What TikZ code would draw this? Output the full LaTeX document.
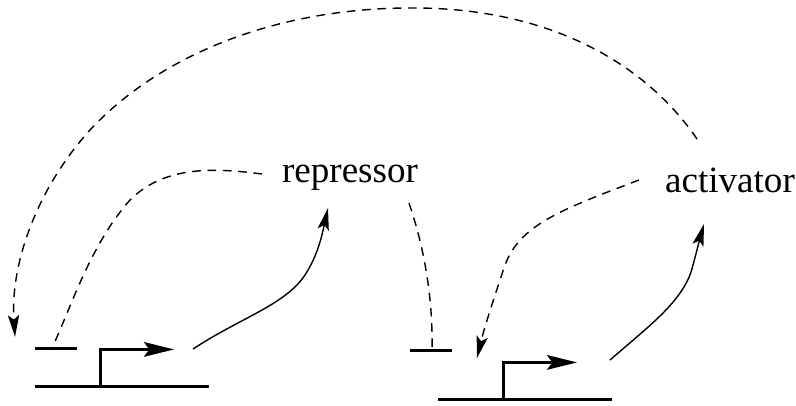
\documentclass[tikz,border=0pt]{standalone}
\usepackage{fontspec}
\setmainfont{Liberation Serif}
\usetikzlibrary{arrows.meta}
\tikzset{
  bigtip/.style={-{Stealth[length=22.5pt,width=11pt,inset=4pt]}},
  smalltip/.style={-{Stealth[length=16.5pt,width=8.5pt,inset=3.5pt]}},
  lab/.style={inner sep=0pt,font=\fontsize{27.8pt}{30pt}\selectfont,anchor=base},
  barline/.style={line width=2.1pt},
  fineline/.style={line width=1.05pt},
  dashline/.style={fineline,dash pattern=on 6.5pt off 5pt}
}
\begin{document}
\begin{tikzpicture}[x=0.75pt,y=-0.75pt]
\useasboundingbox (0,0) rectangle (796,405);
\fill[white] (0,0) rectangle (796,405);
\node[lab] (rep) at (350,182) {repressor};
\node[lab] (act) at (730,192) {activator};
\coordinate (a0) at (697,139);
\coordinate (a1) at (15,337);
\coordinate (r0) at (262,174);
\coordinate (r1) at (52,348);
\coordinate (t0) at (409,203);
\coordinate (t1) at (432,350);
\coordinate (c0) at (639,180);
\coordinate (c1) at (477,358);
\coordinate (g1a) at (35,348.5);\coordinate (g1b) at (77,348.5);
\coordinate (g2a) at (410,350.5);\coordinate (g2b) at (452,350.5);
\coordinate (b1a) at (35,386.5);\coordinate (b1b) at (209,386.5);
\coordinate (b2a) at (438,399.5);\coordinate (b2b) at (612,399.5);
\coordinate (p1) at (100.2,386.5);\coordinate (p1c) at (100.2,349.4);\coordinate (p1e) at (174,349.4);
\coordinate (p2) at (503.2,399.5);\coordinate (p2c) at (503.2,362.4);\coordinate (p2e) at (577,362.4);
\coordinate (m1) at (193,349);\coordinate (m1e) at (328,208);
\coordinate (m2) at (610,360);\coordinate (m2e) at (704,224);
\draw[dashline,smalltip] (a0) .. controls (650,70) and (560,10) .. (420,8) .. controls (270,6) and (155,60) .. (90,130) .. controls (40,185) and (10,260) .. (a1);
\draw[dashline] (r0) .. controls (215,168) and (165,165) .. (130,200) .. controls (90,245) and (70,310) .. (r1);
\draw[dashline] (t0) .. controls (425,250) and (433,300) .. (t1);
\draw[dashline,smalltip] (c0) .. controls (560,210) and (520,225) .. (505,265) .. controls (495,295) and (485,325) .. (c1);
\draw[barline] (g1a) -- (g1b);
\draw[barline] (g2a) -- (g2b);
\draw[barline] (b1a) -- (b1b);
\draw[barline] (b2a) -- (b2b);
\draw[line width=2.1pt,bigtip] (p1) -- (p1c) -- (p1e);
\draw[line width=2.1pt,bigtip] (p2) -- (p2c) -- (p2e);
\draw[fineline,smalltip] (m1) .. controls (240,318) and (285,305) .. (305,275) .. controls (318,255) and (322,235) .. (m1e);
\draw[fineline,smalltip] (m2) .. controls (650,325) and (685,300) .. (693,265) .. controls (697,250) and (700,238) .. (m2e);
\end{tikzpicture}
\end{document}
